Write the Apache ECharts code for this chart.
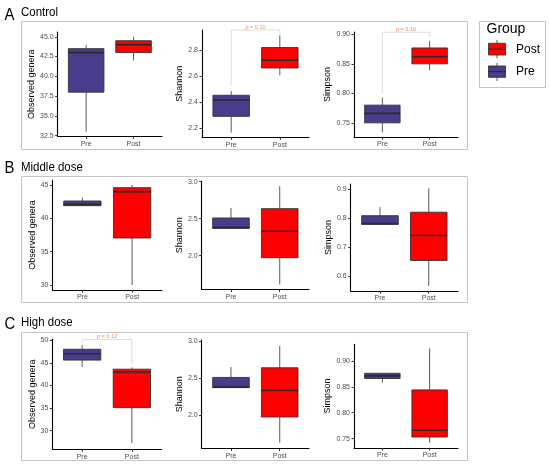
<!DOCTYPE html>
<html>
<head>
<meta charset="utf-8">
<script src="https://cdn.jsdelivr.net/npm/echarts@6/dist/echarts.min.js"></script>
<style>
html,body{margin:0;padding:0;background:#fff;}
#chart{width:550px;height:467px;}
</style>
</head>
<body>
<div id="chart"></div>
<script>
// ---- data ----
const groups = ['Pre', 'Post'];
const metrics = ['Observed genera', 'Shannon', 'Simpson'];
const cohorts = ['Control', 'Middle dose', 'High dose'];
const panelLetters = ['A', 'B', 'C'];
const legendTitle = 'Group';
const legendOrder = ['Post', 'Pre'];

// box stats: [low whisker, q1, median, q3, high whisker]
const controlObservedPre  = [33, 38, 43, 43.5, 44];
const controlObservedPost = [42, 43, 44, 44.5, 45];
const controlShannonPre   = [2.167, 2.292, 2.418, 2.454, 2.487];
const controlShannonPost  = [2.608, 2.664, 2.723, 2.821, 2.915];
const controlSimpsonPre   = [0.734, 0.750, 0.766, 0.780, 0.793];
const controlSimpsonPost  = [0.839, 0.850, 0.862, 0.877, 0.889];

const middleObservedPre   = [41.9, 41.9, 42.1, 42.6, 43.1];
const middleObservedPost  = [30, 37.05, 44.0, 44.6, 45];
const middleShannonPre    = [2.37, 2.37, 2.38, 2.51, 2.645];
const middleShannonPost   = [1.61, 1.973, 2.33, 2.636, 2.94];
const middleSimpsonPre    = [0.778, 0.778, 0.781, 0.808, 0.837];
const middleSimpsonPost   = [0.567, 0.654, 0.740, 0.820, 0.902];

const highObservedPre     = [44.1, 45.6, 47.0, 48.0, 48.9];
const highObservedPost    = [27.3, 35.1, 43.0, 43.6, 44.0];
const highShannonPre      = [2.373, 2.373, 2.38, 2.51, 2.649];
const highShannonPost     = [1.63, 1.977, 2.335, 2.64, 2.936];
const highSimpsonPre      = [0.858, 0.866, 0.871, 0.876, 0.876];
const highSimpsonPost     = [0.742, 0.753, 0.766, 0.844, 0.924];

// tick labels
const ticksControlObserved = ['32.5', '35.0', '37.5', '40.0', '42.5', '45.0'];
const ticksControlShannon  = ['2.2', '2.4', '2.6', '2.8'];
const ticksControlSimpson  = ['0.75', '0.80', '0.85', '0.90'];
const ticksMiddleObserved  = ['30', '35', '40', '45'];
const ticksMiddleShannon   = ['2.0', '2.5', '3.0'];
const ticksMiddleSimpson   = ['0.6', '0.7', '0.8', '0.9'];
const ticksHighObserved    = ['30', '35', '40', '45', '50'];
const ticksHighShannon     = ['2.0', '2.5', '3.0'];
const ticksHighSimpson     = ['0.75', '0.80', '0.85', '0.90'];

// axis ranges [min, max]
const rangeControlObserved = [32.4, 45.6];
const rangeControlShannon  = [2.131, 2.956];
const rangeControlSimpson  = [0.726, 0.904];
const rangeMiddleObserved  = [29.25, 45.75];
const rangeMiddleShannon   = [1.543, 3.01];
const rangeMiddleSimpson   = [0.549, 0.917];
const rangeHighObserved    = [25.9, 50.2];
const rangeHighShannon     = [1.553, 3.014];
const rangeHighSimpson     = [0.732, 0.932];

// p-value brackets: [bracket top, Pre leg end, Post leg end]
const pLabelControlShannon = 'p = 0.10';
const pBracketControlShannon = [2.956, 2.531, 2.928];
const pLabelControlSimpson = 'p = 0.10';
const pBracketControlSimpson = [0.9035, 0.800, 0.895];
const pLabelHighObserved = 'p = 0.12';
const pBracketHighObserved = [50.15, 49.3, 44.7];

// ---- layout / style ----
const fills = { Pre: '#483D8B', Post: '#FF0000' };
const FONT = "'Liberation Sans', Arial, sans-serif";

const panels = [
  { row: 0, col: 0, pre: controlObservedPre, post: controlObservedPost, ticks: ticksControlObserved, range: rangeControlObserved, grid: [57.7, 32, 104.3, 104.5], gap: 20 },
  { row: 0, col: 1, pre: controlShannonPre, post: controlShannonPost, ticks: ticksControlShannon, range: rangeControlShannon, grid: [202, 30, 107, 107.3], gap: 16, p: [pLabelControlShannon, pBracketControlShannon] },
  { row: 0, col: 2, pre: controlSimpsonPre, post: controlSimpsonPost, ticks: ticksControlSimpson, range: rangeControlSimpson, grid: [354, 32, 104, 105], gap: 19, p: [pLabelControlSimpson, pBracketControlSimpson] },
  { row: 1, col: 0, pre: middleObservedPre, post: middleObservedPost, ticks: ticksMiddleObserved, range: rangeMiddleObserved, grid: [52.5, 180, 109.5, 110], gap: 15 },
  { row: 1, col: 1, pre: middleShannonPre, post: middleShannonPost, ticks: ticksMiddleShannon, range: rangeMiddleShannon, grid: [201.7, 181, 107.3, 108.5], gap: 16 },
  { row: 1, col: 2, pre: middleSimpsonPre, post: middleSimpsonPost, ticks: ticksMiddleSimpson, range: rangeMiddleSimpson, grid: [350.7, 184, 107.3, 107], gap: 16 },
  { row: 2, col: 0, pre: highObservedPre, post: highObservedPost, ticks: ticksHighObserved, range: rangeHighObserved, grid: [52.3, 339.3, 109.4, 110], gap: 15, p: [pLabelHighObserved, pBracketHighObserved] },
  { row: 2, col: 1, pre: highShannonPre, post: highShannonPost, ticks: ticksHighShannon, range: rangeHighShannon, grid: [201.7, 340, 107.3, 108.5], gap: 16 },
  { row: 2, col: 2, pre: highSimpsonPre, post: highSimpsonPost, ticks: ticksHighSimpson, range: rangeHighSimpson, grid: [354, 344.3, 104, 103.6], gap: 19 }
];

const grids = [], xAxes = [], yAxes = [], series = [];

panels.forEach((p, i) => {
  grids.push({ left: p.grid[0], top: p.grid[1], width: p.grid[2], height: p.grid[3], containLabel: false });
  xAxes.push({
    type: 'value', gridIndex: i, min: 0.4, max: 2.6,
    axisLine: { show: true, onZero: false, lineStyle: { color: '#000', width: 1.1 } },
    axisTick: { show: true, length: 2.5, lineStyle: { color: '#333' }, customValues: [1, 2] },
    axisLabel: { show: true, fontSize: 7, color: '#4d4d4d', fontFamily: FONT, margin: 4,
      customValues: [1, 2], formatter: v => groups[Math.round(v) - 1] },
    splitLine: { show: false }
  });
  const tickVals = p.ticks.map(parseFloat);
  yAxes.push({
    type: 'value', gridIndex: i, min: p.range[0], max: p.range[1],
    name: metrics[p.col], nameLocation: 'middle', nameRotate: 90, nameGap: p.gap,
    nameTextStyle: { fontSize: 9, color: '#000', fontFamily: FONT },
    axisLine: { show: true, onZero: false, lineStyle: { color: '#000', width: 1.1 } },
    axisTick: { show: true, length: 2.5, lineStyle: { color: '#333' }, customValues: tickVals },
    axisLabel: { show: true, fontSize: 7, color: '#4d4d4d', fontFamily: FONT, margin: 4,
      customValues: tickVals,
      formatter: v => { const k = tickVals.findIndex(t => Math.abs(t - v) < 1e-9); return k >= 0 ? p.ticks[k] : ''; } },
    splitLine: { show: false }
  });

  if (p.p) {
    const b = p.p[1];
    series.push({
      type: 'custom', xAxisIndex: i, yAxisIndex: i, silent: true, clip: false,
      data: [[1, b[0], b[1], b[2]]],
      renderItem: (params, api) => {
        const top1 = api.coord([1, api.value(1)]);
        const top2 = api.coord([2, api.value(1)]);
        const e1 = api.coord([1, api.value(2)]);
        const e2 = api.coord([2, api.value(3)]);
        return {
          type: 'group',
          children: [
            { type: 'polyline', shape: { points: [e1, top1, top2, e2] },
              style: { stroke: '#d6d6d6', lineWidth: 0.8, fill: null } },
            { type: 'text', x: (top1[0] + top2[0]) / 2, y: top1[1] - 3,
              style: { text: '{i|p} ' + p.p[0].slice(2), fill: '#F4886E', fontSize: 5.5, fontFamily: FONT,
                align: 'center', verticalAlign: 'middle',
                rich: { i: { fontStyle: 'italic', fill: '#F4886E', fontSize: 5.5, fontFamily: FONT } } } }
          ]
        };
      }
    });
  }

  series.push({
    type: 'custom', xAxisIndex: i, yAxisIndex: i, silent: true, clip: false,
    encode: { x: 0, y: [1, 2, 3, 4, 5] },
    data: [[1].concat(p.pre), [2].concat(p.post)],
    renderItem: (params, api) => {
      const x = api.value(0);
      const c = k => api.coord([x, api.value(k)]);
      const lo = c(1), q1 = c(2), md = c(3), q3 = c(4), hi = c(5);
      const w = api.size([0.75, 0])[0];
      const fill = fills[groups[x - 1]];
      return {
        type: 'group',
        children: [
          { type: 'line', shape: { x1: hi[0], y1: hi[1], x2: q3[0], y2: q3[1] }, style: { stroke: '#5a5a5a', lineWidth: 1 } },
          { type: 'line', shape: { x1: q1[0], y1: q1[1], x2: lo[0], y2: lo[1] }, style: { stroke: '#5a5a5a', lineWidth: 1 } },
          { type: 'rect', shape: { x: q3[0] - w / 2, y: q3[1], width: w, height: q1[1] - q3[1] },
            style: { fill: fill, stroke: '#333', lineWidth: 0.9 } },
          { type: 'line', shape: { x1: md[0] - w / 2, y1: md[1], x2: md[0] + w / 2, y2: md[1] },
            style: { stroke: '#2a2a2a', lineWidth: 1.6 } }
        ]
      };
    }
  });
});

// ---- frames, titles, legend ----
const frames = [[21, 21, 446, 128], [21, 176, 446, 126], [21, 332, 446, 128]];
const titleY = [[20, 16.7], [173.3, 171.7], [329, 326.5]];
const graphics = [];
frames.forEach((f, r) => {
  graphics.push({ type: 'rect', shape: { x: f[0] + 0.5, y: f[1] + 0.5, width: f[2], height: f[3] },
    style: { fill: null, stroke: '#c4c4c4', lineWidth: 1 }, z: -10 });
  graphics.push({ type: 'text', x: 4.5, y: titleY[r][0] + 3.5, scaleX: 0.9,
    style: { text: panelLetters[r], fontSize: 16.5, fontFamily: FONT, fill: '#000', verticalAlign: 'bottom' } });
  graphics.push({ type: 'text', x: 21, y: titleY[r][1] + 2.8, scaleX: 0.85,
    style: { text: cohorts[r], fontSize: 13.5, fontFamily: FONT, fill: '#000', verticalAlign: 'bottom' } });
});
// legend box
graphics.push({ type: 'rect', shape: { x: 479.5, y: 21.5, width: 66, height: 66 },
  style: { fill: '#fff', stroke: '#c4c4c4', lineWidth: 1 } });
graphics.push({ type: 'text', x: 486.5, y: 29.5,
  style: { text: legendTitle, fontSize: 14, fontFamily: FONT, fill: '#000', verticalAlign: 'middle' } });
const keyY = [[40, 43.3, 49.2, 55, 58.3], [62.7, 66, 71.6, 77.3, 81]];
legendOrder.forEach((g, k) => {
  const ky = keyY[k];
  graphics.push({ type: 'line', shape: { x1: 497, y1: ky[0], x2: 497, y2: ky[4] }, style: { stroke: '#5a5a5a', lineWidth: 1 } });
  graphics.push({ type: 'rect', shape: { x: 488.5, y: ky[1], width: 17, height: ky[3] - ky[1] },
    style: { fill: fills[g], stroke: '#333', lineWidth: 0.9 } });
  graphics.push({ type: 'line', shape: { x1: 488.5, y1: ky[2], x2: 505.5, y2: ky[2] }, style: { stroke: '#2a2a2a', lineWidth: 1.2 } });
  graphics.push({ type: 'text', x: 516, y: ky[2],
    style: { text: g, fontSize: 12, fontFamily: FONT, fill: '#000', verticalAlign: 'middle' } });
});

const chart = echarts.init(document.getElementById('chart'), null, { renderer: 'canvas' });
chart.setOption({
  backgroundColor: '#fff',
  animation: false,
  grid: grids,
  xAxis: xAxes,
  yAxis: yAxes,
  series: series,
  graphic: graphics
});
</script>
</body>
</html>
